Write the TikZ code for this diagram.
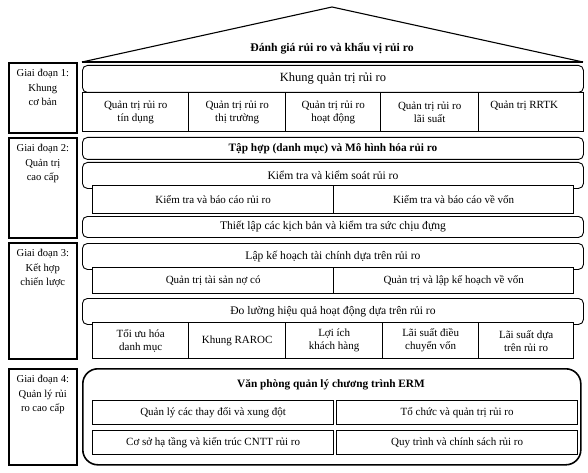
\documentclass[tikz,border=0pt]{standalone}
\usepackage{fontspec}
\setmainfont{Liberation Serif}
\usetikzlibrary{positioning}

\begin{document}
\begin{tikzpicture}[x=1pt, y=-1pt,
  stage/.style={draw, line width=1.6pt, anchor=north west, minimum width=68pt, inner sep=0pt},
  stagetxt/.style={anchor=north, align=center, font=\fontsize{10.6}{14.5}\selectfont},
  band/.style={draw, line width=0.9pt, rounded corners=5pt, fill=white, anchor=north west,
    minimum width=501pt, inner sep=0pt, font=\fontsize{11.6}{13}\selectfont},
  cell/.style={draw, line width=1.3pt, fill=white, anchor=north west, inner sep=0pt,
    align=center, font=\fontsize{11}{13}\selectfont},
  heading/.style={font=\fontsize{11.3}{13}\selectfont\bfseries}]
  \useasboundingbox (0,0) rectangle (588,473);

  % roof
  \coordinate (roofl) at (82,62);
  \coordinate (apex) at (332,7);
  \coordinate (roofr) at (583,62);
  \draw[line width=1.1pt] (roofl) -- (apex) -- (roofr);
  \draw[line width=1.6pt] (roofl) -- (roofr);
  \node[heading, font=\fontsize{11.7}{13}\selectfont\bfseries] (roof) at (332,49) {Đánh giá rủi ro và khẩu vị rủi ro};

  % stages
  \node[stage, minimum height=70pt] (s1) at (8,62) {};
  \node[stage, minimum height=100pt] (s2) at (8,137) {};
  \node[stage, minimum height=116pt] (s3) at (8,242) {};
  \node[stage, minimum height=96pt] (s4) at (8,368) {};
  \node[stagetxt, below=4pt of s1.north] (s1t) {Giai đoạn 1:\\Khung\\cơ bản};
  \node[stagetxt, below=4pt of s2.north] (s2t) {Giai đoạn 2:\\Quản trị\\cao cấp};
  \node[stagetxt, below=4pt of s3.north] (s3t) {Giai đoạn 3:\\Kết hợp\\chiến lược};
  \node[stagetxt, below=4pt of s4.north] (s4t) {Giai đoạn 4:\\Quản lý rủi\\ro cao cấp};

  % stage 1
  \node[band, minimum height=27pt, font=\fontsize{12.5}{14}\selectfont] (khung) at (82,65) {Khung quản trị rủi ro};
  \node[cell, minimum width=106pt, minimum height=39pt] (tindung) at (82,92) {Quản trị rủi ro\\tín dụng};
  \node[cell, minimum width=97pt, minimum height=39pt] (thitruong) at (188,92) {Quản trị rủi ro\\thị trường};
  \node[cell, minimum width=95pt, minimum height=39pt] (hoatdong) at (285,92) {Quản trị rủi ro\\hoạt động};
  \node[cell, minimum width=98pt, minimum height=39pt] (laisuat) at (380,92) {Quản trị rủi ro\\lãi suất};
  \node[cell, minimum width=105pt, minimum height=39pt] (rrtk) at (478,92) {Quản trị RRTK\kern14pt\\\phantom{g}};

  % stage 2
  \node[band, minimum height=22pt, heading] (taphop) at (82,137) {Tập hợp (danh mục) và Mô hình hóa rủi ro};
  \node[band, minimum height=26pt] (kiemsoat) at (82,162) {Kiểm tra và kiểm soát rủi ro};
  \node[cell, minimum width=241pt, minimum height=28pt] (bcruiro) at (92,185) {Kiểm tra và báo cáo rủi ro};
  \node[cell, minimum width=240pt, minimum height=28pt] (bcvon) at (333,185) {Kiểm tra và báo cáo về vốn};
  \node[band, minimum height=21pt] (kichban) at (82,216) {Thiết lập các kịch bản và kiểm tra sức chịu đựng};

  % stage 3
  \node[band, minimum height=26pt] (lapke) at (82,243) {Lập kế hoạch tài chính dựa trên rủi ro};
  \node[cell, minimum width=241pt, minimum height=26pt] (taisan) at (92,267) {Quản trị tài sản nợ có};
  \node[cell, minimum width=240pt, minimum height=26pt] (khvon) at (333,267) {Quản trị và lập kế hoạch về vốn};
  \node[band, minimum height=26pt] (doluong) at (82,298) {Đo lường hiệu quả hoạt động dựa trên rủi ro};
  \node[cell, minimum width=96pt, minimum height=36pt] (danhmuc) at (92,322) {Tối ưu hóa\\danh mục};
  \node[cell, minimum width=97pt, minimum height=36pt] (raroc) at (188,322) {Khung RAROC};
  \node[cell, minimum width=97pt, minimum height=36pt] (loiich) at (285,322) {Lợi ích\\khách hàng};
  \node[cell, minimum width=96pt, minimum height=36pt] (chuyenvon) at (382,322) {Lãi suất điều\\chuyển vốn};
  \node[cell, minimum width=95pt, minimum height=36pt] (laiduatren) at (478,322) {Lãi suất dựa\\trên rủi ro};

  % stage 4
  \node[draw, line width=1.6pt, rounded corners=15pt, anchor=north west, minimum width=498pt,
    minimum height=96pt] (erm) at (82,368) {};
  \node[heading] (ermt) at (331,385) {Văn phòng quản lý chương trình ERM};
  \node[cell, minimum width=241pt, minimum height=24pt] (xungdot) at (92,400) {Quản lý các thay đổi và xung đột};
  \node[cell, minimum width=241pt, minimum height=24pt] (tochuc) at (336,400) {Tổ chức và quản trị rủi ro};
  \node[cell, minimum width=241pt, minimum height=24pt] (cntt) at (92,430) {Cơ sở hạ tầng và kiến trúc CNTT rủi ro};
  \node[cell, minimum width=241pt, minimum height=24pt] (quytrinh) at (336,430) {Quy trình và chính sách rủi ro};
\end{tikzpicture}
\end{document}
